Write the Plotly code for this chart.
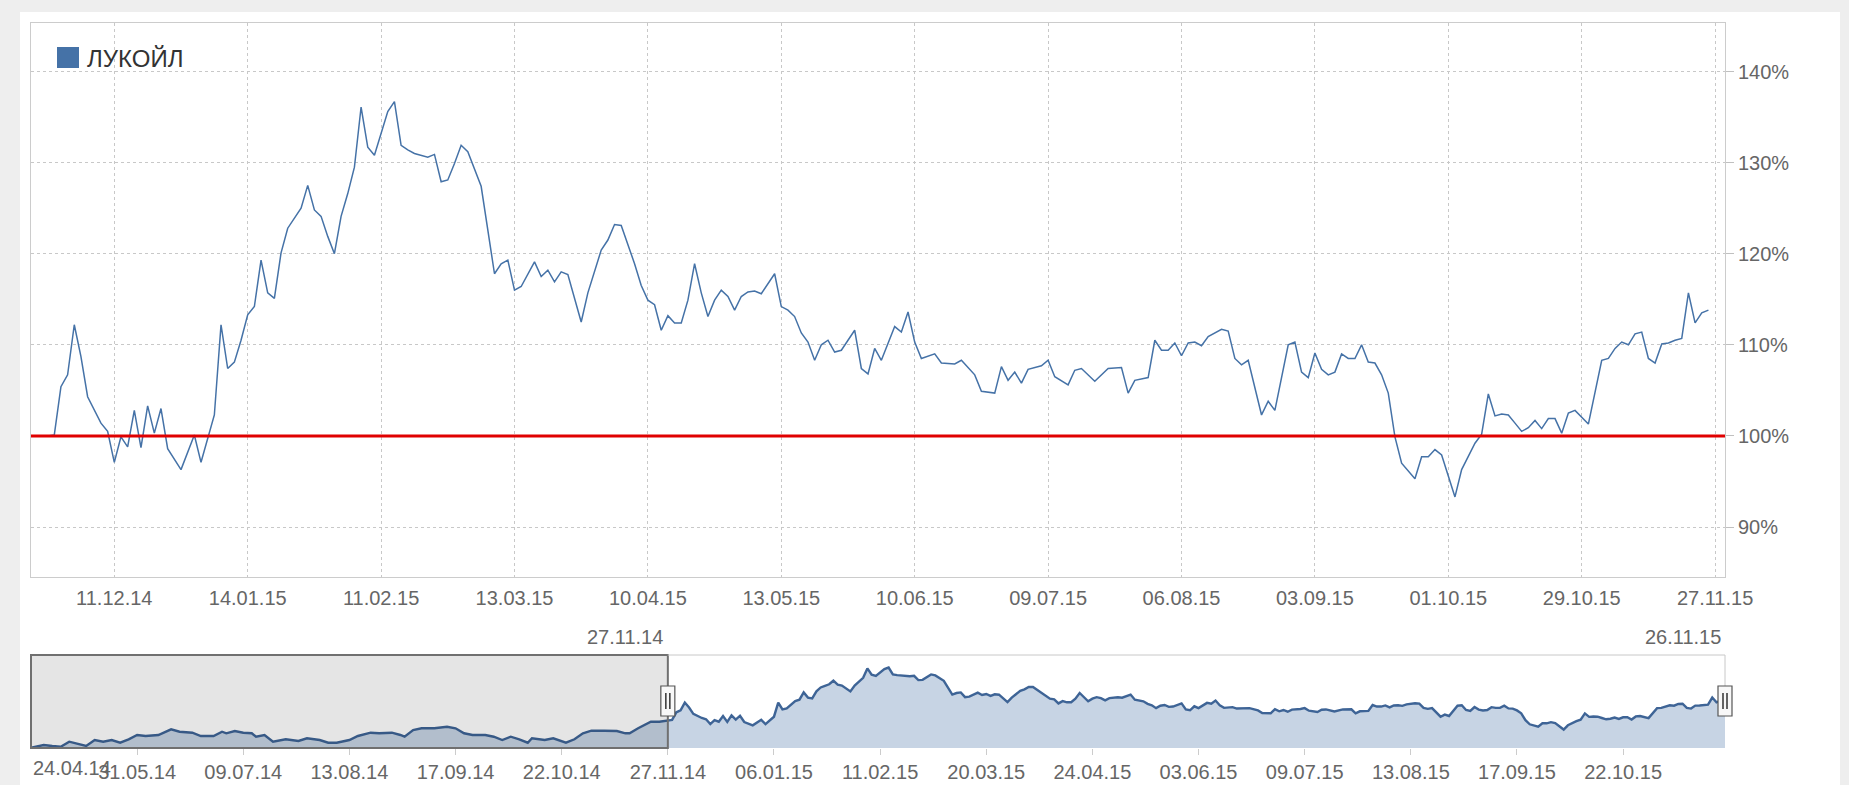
import plotly.graph_objects as go

W, H = 1849, 785

# ---------------- data ----------------
# main chart: trading session number counted from 27.11.14 (=0), value in % of 27.11.14
main_day = [0, 1, 2, 3, 4, 5, 6, 7, 8, 9, 10, 11, 12, 13, 14, 15, 16, 17, 18, 20,
            22, 23, 25, 26, 27, 28, 29, 30, 31, 32, 33, 34, 35, 36, 37, 38, 39, 40,
            41, 42, 43, 44, 45, 46, 47, 48, 49, 50, 51, 52, 53, 54, 55, 57, 58, 59,
            60, 61, 62, 63, 65, 67, 68, 69, 70, 71, 73, 74, 75, 76, 77, 78, 80, 81,
            83, 84, 85, 86, 87, 88, 89, 90, 91, 92, 93, 94, 95, 96, 97, 98, 99, 100,
            101, 102, 103, 104, 105, 106, 107, 109, 110, 111, 112, 113, 114, 115, 116,
            117, 118, 119, 121, 122, 123, 124, 125, 127, 128, 129, 130, 131, 133, 134,
            136, 137, 139, 140, 142, 143, 144, 145, 146, 147, 149, 150, 151, 153, 154,
            155, 157, 159, 161, 162, 163, 165, 166, 167, 168, 169, 170, 171, 172, 173,
            174, 176, 177, 178, 179, 180, 182, 183, 184, 186, 187, 188, 189, 190, 191,
            192, 193, 194, 195, 196, 197, 198, 199, 200, 201, 202, 203, 204, 205, 206,
            207, 208, 209, 211, 212, 214, 215, 216, 217, 218, 219, 220, 221, 222, 223,
            224, 225, 226, 227, 228, 229, 231, 232, 233, 234, 235, 236, 237, 238, 239,
            240, 241, 242, 243, 244, 245, 246, 247, 248, 249]
main_pct = [100.0, 100.1, 105.4, 106.7, 112.2, 108.7, 104.3, 102.8, 101.4, 100.5, 97.1, 99.9,
            98.8, 102.8, 98.7, 103.3, 100.3, 103.0, 98.6, 96.3,
            100.1, 97.1, 102.3, 112.2, 107.4, 108.1, 110.5, 113.3, 114.2, 119.3, 115.7, 115.1,
            120.1, 122.8, 123.9, 125.0, 127.5, 124.8,
            124.1, 121.9, 120.0, 124.1, 126.6, 129.5, 136.1, 131.7, 130.8, 133.2, 135.6, 136.7,
            131.9, 131.4, 131.0, 130.6, 130.9, 127.9,
            128.1, 129.9, 131.9, 131.2, 127.4, 117.8, 118.9, 119.3, 116.0, 116.4, 119.1, 117.5,
            118.2, 116.9, 118.0, 117.7, 112.5, 115.7,
            120.4, 121.5, 123.2, 123.1, 121.1, 118.9, 116.5, 114.9, 114.4, 111.6, 113.2, 112.4,
            112.4, 114.9, 118.9, 115.7, 113.1, 114.9,
            116.0, 115.3, 113.8, 115.3, 115.8, 115.9, 115.6, 117.8, 114.2, 113.8, 113.1, 111.3,
            110.3, 108.3, 110.0,
            110.5, 109.2, 109.4, 111.6, 107.4, 106.8, 109.6, 108.3, 112.0, 111.4, 113.6, 110.3,
            108.5, 109.0, 108.0,
            107.9, 108.3, 106.7, 104.9, 104.7, 107.6, 106.1, 107.0, 105.8, 107.3, 107.7, 108.3,
            106.5, 105.6, 107.2,
            107.4, 106.0, 107.4, 107.5, 104.7, 106.1, 106.4, 110.5, 109.4, 109.4, 110.2, 108.8,
            110.2, 110.3, 109.9,
            110.9, 111.7, 111.5, 108.5, 107.8, 108.3, 102.3, 103.8, 102.8, 110.0, 110.3, 107.0,
            106.4, 109.1, 107.3,
            106.7, 107.0, 109.0, 108.5, 108.5, 110.0, 108.1, 108.0, 106.7, 104.7, 99.9, 97.0,
            96.1, 95.3, 97.7,
            97.7, 98.5, 97.9, 93.3, 96.3, 99.2, 100.2, 104.6, 102.2, 102.4, 102.3, 101.4, 100.5,
            100.9, 101.7,
            100.8, 101.9, 101.9, 100.3, 102.5, 102.8, 101.3, 104.7, 108.3, 108.5, 109.6, 110.3,
            110.0, 111.2, 111.4,
            108.5, 108.0, 110.1, 110.2, 110.5, 110.7, 115.7, 112.4, 113.5, 113.8]

# navigator history before 27.11.14: session number counted from 24.04.14 (=0)
hist_day = [0, 3, 5, 7, 9, 11, 13, 15, 17, 19, 21, 23, 25, 27, 30, 33, 35, 38, 40, 43, 45,
            46, 48, 50, 52, 53, 55, 57, 60, 63, 65, 68, 70, 72, 75, 77, 80, 82, 85, 87, 88,
            90, 92, 95, 98, 100, 102, 104, 107, 109, 111, 113, 115, 117, 118, 121, 123, 126,
            128, 130, 132, 135, 138, 140, 141, 143, 146, 148]
hist_pct = [80.6, 82.5, 81.8, 81.3, 84.8, 83.2, 81.8, 86.0, 84.8, 86.0, 84.1, 86.5, 89.5,
            88.8, 89.5, 93.5, 91.8, 91.1, 88.8, 88.8, 91.8,
            90.7, 92.3, 91.1, 90.7, 88.3, 89.5, 84.8, 86.5, 85.3, 87.2, 86.0, 84.1, 84.1, 86.0,
            88.8, 91.1, 90.7, 91.1, 89.5, 88.3,
            93.0, 94.2, 94.2, 95.3, 94.2, 90.7, 89.5, 89.5, 88.3, 86.0, 88.3, 86.5, 84.1, 87.2,
            86.0, 87.2, 84.1,
            86.5, 90.7, 92.5, 92.5, 92.3, 90.7, 90.7, 94.2, 98.8, 98.8]
hist_sessions = 150          # sessions from 24.04.14 to 27.11.14
base_level = 100             # 27.11.14 = 100 %

series_name = "ЛУКОЙЛ"
x_tick_day = [10, 30, 50, 70, 90, 110, 130, 150, 170, 190, 210, 230, 250]
x_tick_labels = ["11.12.14", "14.01.15", "11.02.15", "13.03.15", "10.04.15", "13.05.15",
                 "10.06.15", "09.07.15", "06.08.15", "03.09.15", "01.10.15", "29.10.15",
                 "27.11.15"]
y_tick_vals = [90, 100, 110, 120, 130, 140]
y_tick_labels = ["90%", "100%", "110%", "120%", "130%", "140%"]
nav_tick_day = [0, 25, 50, 75, 100, 125, 150, 175, 200, 225, 250, 275, 300, 325, 350, 375]
nav_tick_labels = ["24.04.14", "31.05.14", "09.07.14", "13.08.14", "17.09.14", "22.10.14",
                   "27.11.14", "06.01.15", "11.02.15", "20.03.15", "24.04.15", "03.06.15",
                   "09.07.15", "13.08.15", "17.09.15", "22.10.15"]
range_start_label = "27.11.14"
range_end_label = "26.11.15"

# ---------------- layout helpers ----------------
def fx(px):
    return px / W

def fy(py):
    return 1 - py / H

PL, PR = 31, 1725          # plot left / right (px)
MT, MB = 23, 577           # main plot top / bottom
NT, NB = 655, 748          # navigator top / bottom

nav_day = hist_day + [hist_sessions + d for d in main_day]
nav_pct = hist_pct + main_pct
nav_max = nav_day[-1]

def nav_px(k):
    return PL + (PR - PL) * k / nav_max

FONT = "Liberation Sans, Arial, sans-serif"
tickfont = dict(family=FONT, size=20, color="#666666")
LINE = "#4572A7"

fig = go.Figure()
fig.add_trace(go.Scatter(x=main_day, y=main_pct, mode="lines", name=series_name,
                         line=dict(color=LINE, width=1.5), xaxis="x", yaxis="y",
                         showlegend=False, hoverinfo="x+y"))
fig.add_trace(go.Scatter(x=nav_day, y=nav_pct, mode="lines", fill="tozeroy",
                         fillcolor="rgba(69,114,167,0.30)",
                         line=dict(color="#3e6496", width=2.4), xaxis="x2", yaxis="y2",
                         showlegend=False, hoverinfo="skip"))

shapes = []
# white panel
shapes.append(dict(type="rect", xref="paper", yref="paper", x0=fx(20), x1=fx(1840),
                   y0=0, y1=fy(12), fillcolor="white", line=dict(width=0), layer="below"))
# 100 % level
shapes.append(dict(type="line", xref="x domain", yref="y", x0=0, x1=1, y0=base_level,
                   y1=base_level, line=dict(color="#e00000", width=3), layer="above"))
# navigator mask over unselected range
sel_px = nav_px(hist_sessions)
shapes.append(dict(type="rect", xref="paper", yref="paper", x0=fx(PL), x1=fx(sel_px),
                   y0=fy(NB), y1=fy(NT), fillcolor="rgba(0,0,0,0.10)",
                   line=dict(color="#707070", width=2), layer="above"))
# thin outline of selected area
shapes.append(dict(type="line", xref="paper", yref="paper", x0=fx(sel_px), x1=fx(PR),
                   y0=fy(NT), y1=fy(NT), line=dict(color="#c8c8c8", width=1)))
shapes.append(dict(type="line", xref="paper", yref="paper", x0=fx(PR), x1=fx(PR),
                   y0=fy(NT), y1=fy(686), line=dict(color="#c8c8c8", width=1)))
# handles
for hx in (sel_px, nav_px(nav_max)):
    shapes.append(dict(type="rect", xref="paper", yref="paper", x0=fx(hx - 7), x1=fx(hx + 7),
                       y0=fy(716), y1=fy(686), fillcolor="#f8f8f8",
                       line=dict(color="#555555", width=1.2), layer="above"))
    for dx in (-2, 2):
        shapes.append(dict(type="line", xref="paper", yref="paper", x0=fx(hx + dx),
                           x1=fx(hx + dx), y0=fy(709), y1=fy(693),
                           line=dict(color="#333333", width=1.5), layer="above"))
# legend symbol
shapes.append(dict(type="rect", xref="paper", yref="paper", x0=fx(57), x1=fx(79),
                   y0=fy(68), y1=fy(47), fillcolor=LINE, line=dict(width=0)))

annotations = [
    dict(text=series_name, xref="paper", yref="paper", x=fx(85), y=fy(59), xanchor="left",
         yanchor="middle", showarrow=False, font=dict(family=FONT, size=24, color="#333333")),
    dict(text=range_start_label, xref="paper", yref="paper", x=fx(sel_px - 3), y=fy(637),
         xanchor="right", yanchor="middle", showarrow=False, font=tickfont),
    dict(text=range_end_label, xref="paper", yref="paper", x=fx(nav_px(nav_max) - 2), y=fy(637),
         xanchor="right", yanchor="middle", showarrow=False, font=tickfont),
    dict(text=nav_tick_labels[0], xref="paper", yref="paper", x=fx(nav_px(nav_tick_day[0])),
         y=fy(768), xanchor="left", yanchor="middle", showarrow=False, font=tickfont),
]

# main x range in sessions: derived from pixel geometry (11.12.14 tick at 114.3 px, 6.67 px/session)
px_per_day = 6.67
x0_px = 114.3 - x_tick_day[0] * px_per_day
xr = [(PL - x0_px) / px_per_day, (PR - x0_px) / px_per_day]
# main y range: 140 % at 71.7 px, 9.11 px per %
y100 = 435.9
ppp = 9.11
yr = [100 - (MB - y100) / ppp, 100 + (y100 - MT) / ppp]

fig.update_layout(
    template="none",
    width=W, height=H,
    margin=dict(l=0, r=0, t=0, b=0),
    paper_bgcolor="#eeeeee",
    plot_bgcolor="white",
    showlegend=False,
    font=dict(family=FONT),
    xaxis=dict(domain=[fx(PL), fx(PR)], range=xr, anchor="y", tickmode="array",
               tickvals=x_tick_day, ticktext=x_tick_labels, showgrid=True,
               gridcolor="#c8c8c8", griddash="dot", gridwidth=1, showline=True,
               linecolor="#cccccc", linewidth=1, mirror=True, ticks="",
               tickfont=tickfont, ticklabelstandoff=3, zeroline=False, automargin=False,
               fixedrange=True),
    yaxis=dict(domain=[fy(MB), fy(MT)], range=yr, anchor="x", side="right",
               tickmode="array", tickvals=y_tick_vals, ticktext=y_tick_labels,
               showgrid=True, gridcolor="#c8c8c8", griddash="dot", gridwidth=1,
               showline=True, linecolor="#cccccc", linewidth=1, mirror=True,
               ticks="outside", ticklen=8, tickcolor="#c0c0c0", tickwidth=1,
               tickfont=tickfont, ticklabelstandoff=0, zeroline=False,
               automargin=False, fixedrange=True),
    xaxis2=dict(domain=[fx(PL), fx(PR)], range=[0, nav_max], anchor="y2", tickmode="array",
                tickvals=nav_tick_day[1:], ticktext=nav_tick_labels[1:], showgrid=False,
                ticks="outside", ticklen=6, tickcolor="#cccccc", tickwidth=1,
                tickfont=tickfont, ticklabelstandoff=0, showline=False, zeroline=False,
                automargin=False, fixedrange=True),
    yaxis2=dict(domain=[fy(NB), fy(NT)], range=[80.4, 145.5], anchor="x2",
                showticklabels=False, showgrid=False, zeroline=False, showline=False,
                ticks="", automargin=False, fixedrange=True),
    shapes=shapes,
    annotations=annotations,
)

fig.write_html("out.html", include_plotlyjs=True, full_html=True,
               config={"displayModeBar": False},
               post_script="document.body.style.margin='0';"
                           "document.body.style.overflow='hidden';")
